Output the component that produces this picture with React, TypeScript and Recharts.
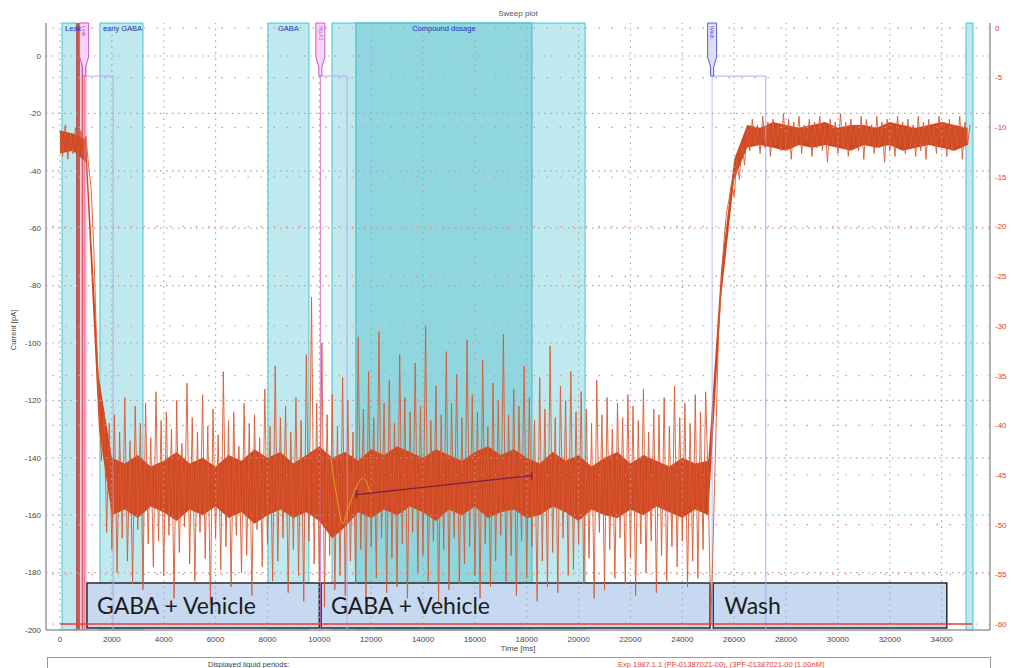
import React from 'react';
import {
  ComposedChart,
  Line,
  Area,
  XAxis,
  YAxis,
  ReferenceArea,
  ReferenceLine,
  ReferenceDot,
  Label,
} from 'recharts';

// sweep current [pA], one sample every 100 ms starting at t = 0
const SAMPLE_MS = 100;
const currentPA = [
  -26, -35, -24, -36, -27, -34, -25, -37, -26, -33,
  -28, -38, -46, -66, -97, -121, -141, -124, -166, -128,
  -172, -125, -180, -131, -168, -119, -176, -134, -184, -122,
  -165, -128, -186, -121, -170, -133, -178, -117, -169, -127,
  -181, -124, -167, -130, -189, -120, -173, -135, -164, -114,
  -177, -126, -183, -131, -166, -118, -175, -129, -191, -123,
  -168, -132, -179, -110, -171, -127, -185, -124, -167, -136,
  -180, -121, -174, -128, -188, -125, -165, -133, -178, -116,
  -170, -129, -183, -108, -176, -126, -168, -122, -187, -131,
  -172, -119, -181, -127, -190, -104, -169, -84, -177, -121,
  -183, -100, -192, -125, -174, -118, -186, -129, -181, -112,
  -188, -120, -176, -131, -184, -98, -172, -123, -190, -110,
  -171, -126, -182, -96, -168, -121, -187, -113, -175, -128,
  -185, -104, -170, -119, -189, -124, -166, -107, -180, -122,
  -174, -94, -183, -127, -169, -115, -191, -125, -172, -103,
  -186, -121, -168, -111, -184, -126, -177, -99, -171, -118,
  -181, -124, -189, -106, -170, -129, -185, -114, -176, -120,
  -167, -97, -183, -125, -174, -116, -188, -122, -169, -108,
  -182, -119, -171, -127, -190, -112, -176, -123, -185, -101,
  -173, -126, -187, -115, -168, -120, -181, -110, -179, -124,
  -170, -117, -184, -123, -175, -128, -189, -113, -166, -125,
  -186, -119, -172, -130, -182, -121, -168, -126, -184, -118,
  -175, -122, -188, -127, -170, -116, -180, -131, -169, -123,
  -187, -125, -174, -119, -183, -129, -171, -115, -178, -126,
  -169, -121, -185, -128, -176, -118, -182, -124, -172, -117,
  -150, -198, -165, -130, -96, -80, -65, -55, -50, -44,
  -49, -36, -43, -30, -38, -25, -33, -22, -31, -24,
  -34, -21, -32, -23, -35, -22, -31, -24, -33, -20,
  -32, -22, -36, -23, -31, -21, -34, -24, -30, -22,
  -35, -23, -32, -21, -33, -24, -37, -22, -31, -23,
  -34, -20, -32, -23, -35, -22, -31, -24, -33, -21,
  -36, -22, -31, -24, -34, -21, -32, -23, -37, -22,
  -33, -24, -35, -21, -31, -23, -34, -22, -32, -24,
  -35, -21, -33, -23, -36, -22, -31, -24, -34, -21,
  -32, -23, -35, -22, -33, -24, -31, -21, -36, -23,
  -31, -24,
];

// dense core of the trace, 500 ms bins
const CORE_MS = 500;
const coreHigh = [
  -26, -27, -29, -112,
  -140, -142, -139, -143, -141, -138, -142, -140, -143, -139,
  -141, -137, -140, -138, -142, -139, -136, -140, -138, -141,
  -137, -139, -136, -138, -140, -137, -139, -141, -138, -136,
  -139, -137, -140, -142, -138, -141, -139, -143, -140, -138,
  -142, -139, -141, -143, -140, -142,
  -141, -74, -36,
  -24, -25, -23, -24, -25, -24, -23, -25, -24, -24,
  -25, -23, -24, -25, -24, -23, -24, -25,
];
const coreLow = [
  -34, -33, -37, -130,
  -160, -158, -161, -157, -159, -162, -158, -160, -157, -161,
  -159, -163, -160, -158, -161, -159, -162, -168, -164, -159,
  -161, -158, -160, -157, -159, -162, -158, -160, -157, -161,
  -159, -158, -161, -160, -157, -159, -162, -158, -160, -161,
  -158, -160, -157, -159, -161, -158,
  -160, -84, -43,
  -32, -31, -32, -33, -31, -32, -31, -32, -33, -31,
  -32, -31, -33, -32, -31, -32, -33, -31,
];

// holding potential [mV] on the right axis
const voltageTimes = [0, 35170];
const voltageMV = [-60, -60];

// linear fit over the compound window
const fitTimes = [11430, 18190];
const fitPA = [-152.8, -146.2];

// baseline estimate at compound onset
const onsetTimes = [10450, 10700, 10900, 11100, 11380, 11700, 11950];
const onsetPA = [-140, -155, -163, -158, -151, -147, -152];

const timeTicks = [0, 2000, 4000, 6000, 8000, 10000, 12000, 14000, 16000, 18000, 20000, 22000, 24000, 26000, 28000, 30000, 32000, 34000];
const currentTicks = [0, -20, -40, -60, -80, -100, -120, -140, -160, -180, -200];
const voltageTicks = [0, -5, -10, -15, -20, -25, -30, -35, -40, -45, -50, -55, -60];

// liquid periods
const bandNames = ['Leak', 'early GABA', 'GABA', '', ''];
const bandStart = [80, 1540, 8020, 10490, 34940];
const bandEnd = [650, 3200, 9600, 20250, 35210];
const compoundName = 'Compound dosage';
const compoundStart = 11410;
const compoundEnd = 18200;

// liquid application events
const eventNames = ['Leak', 'Mg A2', 'Wash'];
const eventTimes = [930, 10040, 25150];
const eventHoldEnd = [2050, 11070, 27220];

// condition annotations
const conditionNames = ['GABA + Vehicle', 'GABA + Vehicle', 'Wash'];
const conditionStart = [1040, 10070, 25190];
const conditionEnd = [10000, 25070, 34200];
const conditionTop = -183.6;
const conditionBottom = -199.3;

const traceRows = currentPA.map((v, i) => ({ t: i * SAMPLE_MS, current: v }));
const coreRows = coreHigh.map((h, i) => ({ t: i * CORE_MS, core: [coreLow[i], h] }));
const voltageRows = voltageTimes.map((t, i) => ({ t, mv: voltageMV[i] }));
const fitRows = fitTimes.map((t, i) => ({ t, fit: fitPA[i] }));
const onsetRows = onsetTimes.map((t, i) => ({ t, onset: onsetPA[i] }));

const X_DOMAIN: [number, number] = [-540, 35866];
const PA_DOMAIN: [number, number] = [-200, 11.5];
const MV_DOMAIN: [number, number] = [-60.6, 0.5];

const FONT = '"Liberation Sans", Arial, sans-serif';
const TRACE = '#d85a33';
const BAND_FILL = '#bfe9ee';
const BAND_EDGE = '#45c4d2';

const eventColors = ['#cc55cc', '#cc55cc', '#5b5bdc'];
const eventFills = ['#f6d6f6', '#f6d6f6', '#dedefb'];
const holdColors = ['#b9a6ee', '#b9a6ee', '#a6adf6'];

function tagShape(color: string, fill: string, text: string) {
  return (props: any) => {
    const { cx, cy } = props;
    const d = `M${cx - 4.5},${cy} H${cx + 4.5} V${cy + 34} L${cx + 1.5},${cy + 44} V${cy + 53} H${cx - 1.5} V${cy + 44} L${cx - 4.5},${cy + 34} Z`;
    return (
      <g>
        <path d={d} fill={fill} stroke={color} strokeWidth={1} />
        <text
          transform={`translate(${cx - 1.8},${cy + 3}) rotate(90)`}
          fontSize={5}
          fill={color}
          fontFamily={FONT}
        >
          {text}
        </text>
      </g>
    );
  };
}

function FitEnd(props: any) {
  const { cx, cy } = props;
  if (cx == null || cy == null) return null;
  return <line x1={cx} x2={cx} y1={cy - 4} y2={cy + 4} stroke="#7a1f45" strokeWidth={1.5} />;
}

export default function App() {
  return (
    <div style={{ position: 'absolute', left: 0, top: 0, width: 1011, height: 668, background: '#fff', overflow: 'hidden', fontFamily: FONT }}>
      <div style={{ position: 'absolute', left: 0, width: 1036, top: 9, textAlign: 'center', fontSize: 8, color: '#555' }}>
        Sweep plot
      </div>

      <ComposedChart width={1011} height={668} margin={{ top: 23, right: 0, bottom: 10, left: 0 }}>
        <XAxis
          dataKey="t"
          type="number"
          domain={X_DOMAIN}
          ticks={timeTicks}
          allowDataOverflow
          tickLine={false}
          tickSize={4}
          tickMargin={2}
          height={28}
          axisLine={{ stroke: '#999', strokeWidth: 1.5 }}
          tick={{ fontSize: 8, fill: '#444', fontFamily: FONT }}
        >
          <Label
            content={() => (
              <text x={518} y={651} textAnchor="middle" fontSize={8} fill="#444" fontFamily={FONT}>
                Time [ms]
              </text>
            )}
          />
        </XAxis>
        <XAxis
          xAxisId="frame"
          orientation="top"
          type="number"
          domain={X_DOMAIN}
          height={0}
          tick={false}
          tickLine={false}
          axisLine={{ stroke: '#999', strokeWidth: 2 }}
        />
        <YAxis
          yAxisId="pA"
          type="number"
          domain={PA_DOMAIN}
          ticks={currentTicks}
          allowDataOverflow
          width={46}
          tickLine={false}
          tickSize={0}
          tickMargin={5}
          axisLine={{ stroke: '#999', strokeWidth: 1.5 }}
          tick={{ fontSize: 8, fill: '#444', fontFamily: FONT }}
        >
          <Label
            content={() => (
              <text
                transform="translate(16,330) rotate(-90)"
                textAnchor="middle"
                fontSize={7.5}
                fill="#444"
                fontFamily={FONT}
              >
                Current [pA]
              </text>
            )}
          />
        </YAxis>
        <YAxis
          yAxisId="mV"
          orientation="right"
          type="number"
          domain={MV_DOMAIN}
          ticks={voltageTicks}
          allowDataOverflow
          width={21}
          tickLine={false}
          tickSize={0}
          tickMargin={5}
          axisLine={{ stroke: '#999', strokeWidth: 1.5 }}
          tick={{ fontSize: 8, fill: '#e8392f', fontFamily: FONT, textAnchor: 'start' }}
        />

        {/* liquid periods */}
        {bandStart.map((s, i) => (
          <ReferenceArea
            key={`band-${i}`}
            yAxisId="pA"
            x1={s}
            x2={bandEnd[i]}
            fill={BAND_FILL}
            fillOpacity={1}
            stroke={BAND_EDGE}
            strokeWidth={1}
            label={bandNames[i] ? {
              value: bandNames[i],
              position: i === 2 ? 'insideTop' : 'insideTopLeft',
              offset: 3,
              fontSize: 7.5,
              fill: '#2233bb',
              fontFamily: FONT,
            } : undefined}
          />
        ))}
        <ReferenceArea
          yAxisId="pA"
          x1={compoundStart}
          x2={compoundEnd}
          fill="#8fd6df"
          fillOpacity={1}
          stroke="#3fb8c6"
          strokeWidth={1}
          label={{ value: compoundName, position: 'insideTop', offset: 3, fontSize: 7.5, fill: '#2233bb', fontFamily: FONT }}
        />

        {/* leak steps on the voltage channel */}
        <ReferenceArea yAxisId="pA" x1={770} x2={1050} fill="#f6d0e6" fillOpacity={1} />
        <ReferenceArea yAxisId="pA" x1={620} x2={770} fill="#c7463c" fillOpacity={0.9} />
        <ReferenceLine yAxisId="pA" x={860} stroke="#e04848" strokeWidth={1.2} />
        <ReferenceLine yAxisId="pA" x={960} stroke="#f0a040" strokeWidth={1} />

        {/* grid */}
        {currentTicks.slice(0, -1).map((v) => (
          <ReferenceLine key={`gy-${v}`} yAxisId="pA" y={v} stroke="#a8a8a8" strokeDasharray="1.5 4.5" strokeWidth={1.2} />
        ))}
        {voltageTicks.map((v) => (
          <ReferenceLine key={`gv-${v}`} yAxisId="mV" y={v} stroke="#f08a84" strokeDasharray="1.5 11.5" strokeWidth={1.2} />
        ))}
        {timeTicks.map((t) => (
          <ReferenceLine key={`gx-${t}`} yAxisId="pA" x={t} stroke="#a8a8a8" strokeDasharray="1.5 4.5" strokeWidth={1.2} />
        ))}

        {/* application steps */}
        {eventTimes.map((t, i) => (
          <ReferenceLine
            key={`ev-v-${i}`}
            yAxisId="pA"
            segment={[{ x: t, y: -7 }, { x: t, y: -200 }]}
            stroke={i === 2 ? holdColors[i] : eventColors[i]}
            strokeOpacity={0.8}
            strokeWidth={1}
          />
        ))}
        {eventTimes.map((t, i) => (
          <ReferenceLine
            key={`ev-h-${i}`}
            yAxisId="pA"
            segment={[{ x: t, y: -7 }, { x: eventHoldEnd[i], y: -7 }]}
            stroke={holdColors[i]}
            strokeWidth={1}
          />
        ))}
        {eventTimes.map((t, i) => (
          <ReferenceLine
            key={`ev-e-${i}`}
            yAxisId="pA"
            segment={[{ x: eventHoldEnd[i], y: -7 }, { x: eventHoldEnd[i], y: -200 }]}
            stroke={holdColors[i]}
            strokeWidth={1}
          />
        ))}

        <Line
          yAxisId="mV"
          data={voltageRows}
          dataKey="mv"
          stroke="#ee3b32"
          strokeWidth={1.5}
          dot={false}
          isAnimationActive={false}
        />
        <Area
          yAxisId="pA"
          data={coreRows}
          dataKey="core"
          type="linear"
          stroke="none"
          fill="#cf4822"
          fillOpacity={1}
          isAnimationActive={false}
        />
        <Line
          yAxisId="pA"
          data={traceRows}
          dataKey="current"
          type="linear"
          stroke={TRACE}
          strokeWidth={1}
          strokeOpacity={0.9}
          dot={false}
          isAnimationActive={false}
        />
        <Line
          yAxisId="pA"
          data={onsetRows}
          dataKey="onset"
          type="monotone"
          stroke="#d9a628"
          strokeWidth={1}
          dot={false}
          isAnimationActive={false}
        />
        <Line
          yAxisId="pA"
          data={fitRows}
          dataKey="fit"
          stroke="#7a1f45"
          strokeWidth={1.2}
          dot={<FitEnd />}
          isAnimationActive={false}
        />

        {/* condition annotations */}
        {conditionStart.map((s, i) => (
          <ReferenceArea
            key={`cond-${i}`}
            yAxisId="pA"
            x1={s}
            x2={conditionEnd[i]}
            y1={conditionBottom}
            y2={conditionTop}
            fill="#c6d9f0"
            fillOpacity={1}
            stroke="#2a2a2a"
            strokeWidth={1.5}
            label={{
              value: conditionNames[i],
              position: 'insideLeft',
              offset: i === 2 ? 11 : 10,
              fontSize: 23,
              fill: '#1c1c1c',
              fontFamily: 'Lato, "Open Sans", sans-serif',
            }}
          />
        ))}

        {/* event tags */}
        {eventTimes.map((t, i) => (
          <ReferenceDot
            key={`tag-${i}`}
            yAxisId="pA"
            x={t}
            y={PA_DOMAIN[1]}
            ifOverflow="visible"
            shape={tagShape(eventColors[i], eventFills[i], eventNames[i])}
          />
        ))}
      </ComposedChart>

      <div
        style={{
          position: 'absolute',
          left: 47,
          top: 657,
          width: 942,
          height: 40,
          border: '1px solid #999',
          background: '#fff',
          fontSize: 7.5,
        }}
      >
        <span style={{ position: 'absolute', left: 160, top: 2, color: '#444' }}>Displayed liquid periods:</span>
        <span style={{ position: 'absolute', left: 570, top: 2, color: '#e8392f' }}>
          Exp 1987.1.1 (PF-01387021-00), (3PF-01387021-00 [1.00nM]
        </span>
      </div>
    </div>
  );
}
